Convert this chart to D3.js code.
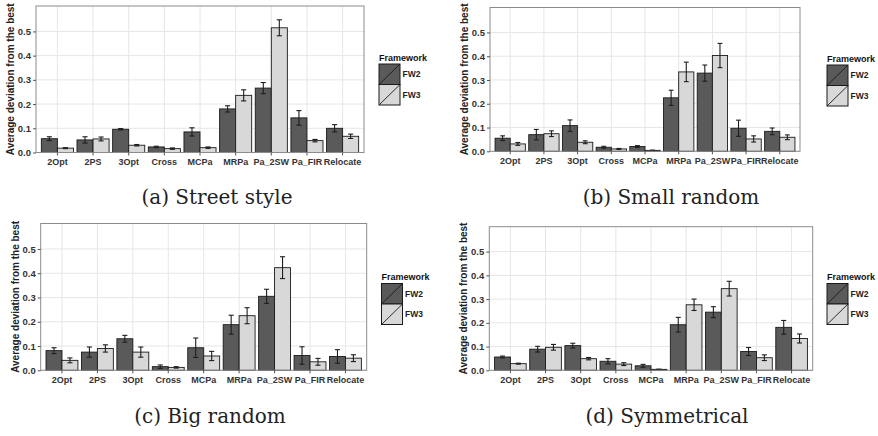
<!DOCTYPE html>
<html>
<head>
<meta charset="utf-8">
<script src="https://cdn.jsdelivr.net/npm/d3@7"></script>
<style>
  body { margin: 0; background: #fff; }
  svg { display: block; font-family: "Liberation Sans", Arial, sans-serif; }
  .axis text { font-size: 9.5px; font-weight: bold; fill: #333; }
  .axis--x text { font-size: 9px; }
  .axis line { stroke: #555; }
  .axis path { display: none; }
  .y-title { font-size: 10px; font-weight: bold; fill: #222; }
  .legend-title { font-size: 9px; font-weight: bold; fill: #111; }
  .legend-label { font-size: 8.5px; font-weight: bold; fill: #222; }
  .caption { font-family: "DejaVu Serif", "Liberation Serif", serif; font-size: 20px; fill: #222; }
</style>
</head>
<body>
<svg id="chart" width="878" height="436"></svg>
<script>
/* global d3 */

const categories = ["2Opt", "2PS", "3Opt", "Cross", "MCPa", "MRPa", "Pa_2SW", "Pa_FIR", "Relocate"];
const frameworks = ["FW2", "FW3"];
const yTicks = [0, 0.1, 0.2, 0.3, 0.4, 0.5];
const Y_MAX = 0.605;

// (a) Street style
const streetFW2    = [0.057, 0.052, 0.096, 0.023, 0.085, 0.180, 0.266, 0.143, 0.100];
const streetFW2Err = [0.008, 0.013, 0.003, 0.003, 0.017, 0.013, 0.023, 0.030, 0.015];
const streetFW3    = [0.018, 0.056, 0.030, 0.016, 0.020, 0.236, 0.515, 0.049, 0.067];
const streetFW3Err = [0.002, 0.008, 0.003, 0.003, 0.003, 0.023, 0.033, 0.005, 0.009];

// (b) Small random
const smallFW2    = [0.055, 0.070, 0.108, 0.017, 0.020, 0.225, 0.329, 0.097, 0.084];
const smallFW2Err = [0.010, 0.022, 0.024, 0.004, 0.004, 0.032, 0.034, 0.034, 0.014];
const smallFW3    = [0.031, 0.074, 0.038, 0.010, 0.004, 0.334, 0.403, 0.052, 0.059];
const smallFW3Err = [0.006, 0.012, 0.006, 0.002, 0.001, 0.041, 0.051, 0.013, 0.010];

// (c) Big random
const bigFW2    = [0.081, 0.075, 0.130, 0.015, 0.093, 0.188, 0.305, 0.061, 0.057];
const bigFW2Err = [0.012, 0.021, 0.014, 0.007, 0.040, 0.039, 0.029, 0.036, 0.028];
const bigFW3    = [0.041, 0.090, 0.075, 0.012, 0.059, 0.225, 0.423, 0.035, 0.050];
const bigFW3Err = [0.010, 0.015, 0.021, 0.003, 0.019, 0.033, 0.045, 0.014, 0.014];

// (d) Symmetrical
const symFW2    = [0.056, 0.089, 0.104, 0.038, 0.019, 0.192, 0.245, 0.079, 0.181];
const symFW2Err = [0.004, 0.012, 0.010, 0.011, 0.006, 0.031, 0.023, 0.017, 0.029];
const symFW3    = [0.028, 0.097, 0.049, 0.026, 0.004, 0.276, 0.344, 0.053, 0.134];
const symFW3Err = [0.002, 0.012, 0.005, 0.006, 0.001, 0.024, 0.031, 0.012, 0.019];

const FILL = { FW2: "#5a5a5a", FW3: "#d8d8d8" };

const panels = [
  { caption: "(a) Street style", fw2: streetFW2, fw2Err: streetFW2Err, fw3: streetFW3, fw3Err: streetFW3Err,
    box: { left: 36, right: 364, top: 6, bottom: 152.5 }, legend: { x: 379, y: 64 }, cap: { x: 217, y: 204 } },
  { caption: "(b) Small random", fw2: smallFW2, fw2Err: smallFW2Err, fw3: smallFW3, fw3Err: smallFW3Err,
    box: { left: 490, right: 800, top: 7.5, bottom: 151.3 }, legend: { x: 827, y: 65 }, cap: { x: 671, y: 204 } },
  { caption: "(c) Big random", fw2: bigFW2, fw2Err: bigFW2Err, fw3: bigFW3, fw3Err: bigFW3Err,
    box: { left: 40.7, right: 366.7, top: 223.5, bottom: 370.3 }, legend: { x: 381.5, y: 283.5 }, cap: { x: 210, y: 423 } },
  { caption: "(d) Symmetrical", fw2: symFW2, fw2Err: symFW2Err, fw3: symFW3, fw3Err: symFW3Err,
    box: { left: 489.3, right: 812.7, top: 226.7, bottom: 370.3 }, legend: { x: 827, y: 283.5 }, cap: { x: 667, y: 423 } }
];

const $svg = d3.select('#chart');

function drawPanel(p) {
  const b = p.box;
  const $g = $svg.append('g').attr('class', 'panel');

  const scaleX = d3.scaleBand()
    .domain(categories)
    .range([b.left, b.right])
    .paddingInner(0)
    .paddingOuter(0.1);

  const scaleY = d3.scaleLinear()
    .domain([0, Y_MAX])
    .range([b.bottom, b.top]);

  const step = scaleX.step();
  const barW = step * 0.45;

  const scaleDodge = d3.scaleBand()
    .domain(frameworks)
    .range([-barW, barW]);

  // background grid
  $g.append('rect')
    .attr('x', b.left).attr('y', b.top)
    .attr('width', b.right - b.left).attr('height', b.bottom - b.top)
    .attr('fill', '#fff');

  $g.selectAll('.grid-y')
    .data(yTicks)
    .join('line')
    .attr('class', 'grid-y')
    .attr('x1', b.left).attr('x2', b.right)
    .attr('y1', d => scaleY(d)).attr('y2', d => scaleY(d))
    .attr('stroke', '#e6e6e6');

  $g.selectAll('.grid-x')
    .data(categories)
    .join('line')
    .attr('class', 'grid-x')
    .attr('x1', d => scaleX(d) + step / 2).attr('x2', d => scaleX(d) + step / 2)
    .attr('y1', b.top).attr('y2', b.bottom)
    .attr('stroke', '#e6e6e6');

  // bars + error bars
  const rows = [];
  categories.forEach((c, i) => {
    rows.push({ cat: c, fw: "FW2", value: p.fw2[i], err: p.fw2Err[i] });
    rows.push({ cat: c, fw: "FW3", value: p.fw3[i], err: p.fw3Err[i] });
  });

  const xOf = d => scaleX(d.cat) + step / 2 + scaleDodge(d.fw);

  $g.selectAll('.bar')
    .data(rows)
    .join('rect')
    .attr('class', 'bar')
    .attr('x', xOf)
    .attr('y', d => scaleY(d.value))
    .attr('width', scaleDodge.bandwidth())
    .attr('height', d => scaleY(0) - scaleY(d.value))
    .attr('fill', d => FILL[d.fw])
    .attr('stroke', '#1a1a1a')
    .attr('stroke-width', 0.9);

  const capW = scaleDodge.bandwidth() * 0.16;
  const $err = $g.selectAll('.err')
    .data(rows)
    .join('g')
    .attr('class', 'err')
    .attr('stroke', '#1e1e1e')
    .attr('stroke-width', 1.1);

  $err.append('line')
    .attr('x1', d => xOf(d) + scaleDodge.bandwidth() / 2)
    .attr('x2', d => xOf(d) + scaleDodge.bandwidth() / 2)
    .attr('y1', d => scaleY(d.value - d.err))
    .attr('y2', d => scaleY(d.value + d.err));
  $err.append('line')
    .attr('x1', d => xOf(d) + scaleDodge.bandwidth() / 2 - capW)
    .attr('x2', d => xOf(d) + scaleDodge.bandwidth() / 2 + capW)
    .attr('y1', d => scaleY(d.value + d.err))
    .attr('y2', d => scaleY(d.value + d.err));
  $err.append('line')
    .attr('x1', d => xOf(d) + scaleDodge.bandwidth() / 2 - capW)
    .attr('x2', d => xOf(d) + scaleDodge.bandwidth() / 2 + capW)
    .attr('y1', d => scaleY(Math.max(0, d.value - d.err)))
    .attr('y2', d => scaleY(Math.max(0, d.value - d.err)));

  // panel border
  $g.append('rect')
    .attr('x', b.left).attr('y', b.top)
    .attr('width', b.right - b.left).attr('height', b.bottom - b.top)
    .attr('fill', 'none')
    .attr('stroke', '#8c8c8c')
    .attr('stroke-width', 1);

  // axes
  const axisY = d3.axisLeft(scaleY)
    .tickValues(yTicks)
    .tickSize(3)
    .tickPadding(2)
    .tickFormat(d3.format('.1f'));

  $g.append('g')
    .attr('class', 'axis axis--y')
    .attr('transform', `translate(${b.left},0)`)
    .call(axisY);

  const axisX = d3.axisBottom(scaleX)
    .tickSize(3)
    .tickPadding(3);

  $g.append('g')
    .attr('class', 'axis axis--x')
    .attr('transform', `translate(0,${b.bottom})`)
    .call(axisX);

  $g.append('text')
    .attr('class', 'y-title')
    .attr('transform', `translate(${b.left - 22},${(b.top + b.bottom) / 2}) rotate(-90)`)
    .attr('text-anchor', 'middle')
    .text('Average deviation from the best');

  // legend
  const L = p.legend;
  const keyW = 21, keyH = 20.5;
  $g.append('text')
    .attr('class', 'legend-title')
    .attr('x', L.x).attr('y', L.y - 3.5)
    .text('Framework');

  const $key = $g.selectAll('.key')
    .data(frameworks)
    .join('g')
    .attr('class', 'key')
    .attr('transform', (d, i) => `translate(${L.x},${L.y + i * keyH})`);

  $key.append('rect')
    .attr('width', keyW).attr('height', keyH)
    .attr('fill', d => FILL[d])
    .attr('stroke', '#1a1a1a')
    .attr('stroke-width', 1);
  $key.append('line')
    .attr('x1', 0).attr('y1', keyH)
    .attr('x2', keyW).attr('y2', 0)
    .attr('stroke', '#1a1a1a')
    .attr('stroke-width', 0.9);
  $key.append('text')
    .attr('class', 'legend-label')
    .attr('x', keyW + 2.5).attr('y', keyH / 2 + 3)
    .text(d => d);

  // caption
  $svg.append('text')
    .attr('class', 'caption')
    .attr('x', p.cap.x).attr('y', p.cap.y)
    .attr('text-anchor', 'middle')
    .text(p.caption);
}

panels.forEach(drawPanel);
</script>
</body>
</html>
